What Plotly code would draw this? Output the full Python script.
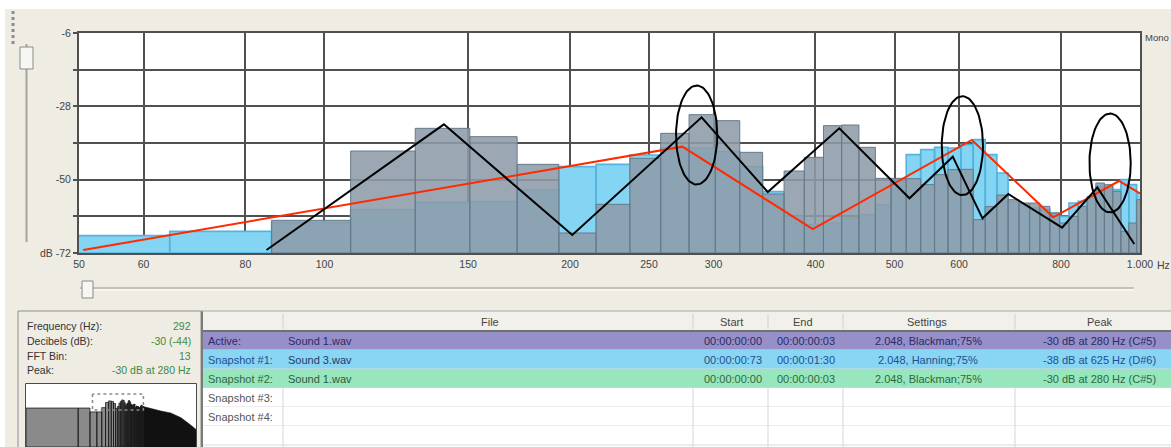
import numpy as np
import plotly.graph_objects as go

# ---------------- data ----------------
SAMPLE_RATE = 44100
FFT_SIZE = 2048
bins = list(range(2, 47))  # FFT bins shown between 50 Hz and 1 kHz

# Snapshot #1 (Sound 3.wav) levels in dB, one per bin
snapshot1_db = [-66.8, -65.5, -62.8, -59.0, -56.8, -56.6, -53.1, -46.1, -45.4, -42.6,
                -40.5, -40.5, -41.6, -46.1, -53.6, -61.0, -63.5, -63.0, -61.5, -60.5,
                -57.5, -50.5, -42.5, -41.0, -40.3, -40.5, -39.5, -38.0, -42.5, -48.0,
                -56.5, -57.5, -58.5, -59.0, -60.0, -61.0, -57.0, -56.5, -55.5, -52.0,
                -52.0, -53.0, -50.0, -51.5, -54.0]
# Active / Snapshot #2 (Sound 1.wav) levels in dB (None = below the floor)
active_db = [None, None, -62.2, -41.4, -34.6, -37.1, -45.4, -66.0, -57.4, -43.6,
             -36.1, -30.5, -32.3, -41.8, -54.3, -47.4, -43.3, -33.8, -33.6, -40.3,
             -49.6, -49.6, -49.7, -51.5, -48.5, -47.0, -46.9, -62.0, -58.1, -54.6,
             -56.0, -57.0, -57.0, -58.0, -60.0, -63.0, -61.0, -58.0, -55.0, -51.0,
             -51.5, -53.5, -65.5, -63.0, -56.0]

# hand-drawn trend lines
red_hz = [50.6, 274.7, 396.9, 622.0, 782.7, 942.6, 1000.0]
red_db = [-71.1, -40.1, -64.8, -38.1, -61.3, -50.4, -54.1]
black_hz = [84.9, 140.1, 201.3, 290.0, 349.6, 427.8, 521.6, 589.4, 641.0, 689.5, 802.6, 886.5, 984.0]
black_db = [-71.1, -33.4, -66.6, -31.3, -53.7, -34.6, -55.6, -43.1, -61.6, -54.3, -64.4, -52.3, -69.3]

# hand-drawn ellipses (centre frequency, centre level)
ellipse_hz = [286.0, 605.6, 919.0]
ellipse_db = [-36.6, -39.8, -45.0]
ellipse_half_decades = 0.0253
ellipse_half_db = 14.85

# axes
view_hz = [50, 1000]
view_db = [-72, -6]
x_tick_hz = [50, 60, 80, 100, 150, 200, 250, 300, 400, 500, 600, 800, 1000]
x_tick_text = ['50', '60', '80', '100', '150', '200', '250', '300', '400', '500', '600', '800', '1.000']
y_grid_db = [-72, -61, -50, -39, -28, -17, -6]
y_tick_text = ['dB -72', '', '-50', '', '-28', '', '-6']

# overview (mini spectrum)
overview_low_db = [-64, -64, -80, -80]          # bins 0..3
overview_hi_hz = [1000, 1500, 2800, 5000, 9200, 16700, 22050]
overview_hi_db = [-58, -66, -76, -84, -104, -136, -152]

# info panel & table
info_labels = ['Frequency (Hz):', 'Decibels (dB):', 'FFT Bin:', 'Peak:']
info_values = ['292', '-30 (-44)', '13', '-30 dB at 280 Hz']
table_header = ['', 'File', 'Start', 'End', 'Settings', 'Peak']
row_labels = ['Active:', 'Snapshot #1:', 'Snapshot #2:', 'Snapshot #3:', 'Snapshot #4:', '']
row_files = ['Sound 1.wav', 'Sound 3.wav', 'Sound 1.wav', '', '', '']
row_starts = ['00:00:00:00', '00:00:00:73', '00:00:00:00', '', '', '']
row_ends = ['00:00:00:03', '00:00:01:30', '00:00:00:03', '', '', '']
row_settings = ['2.048, Blackman;75%', '2.048, Hanning;75%', '2.048, Blackman;75%', '', '', '']
row_peaks = ['-30 dB at 280 Hz (C#5)', '-38 dB at 625 Hz (D#6)', '-30 dB at 280 Hz (C#5)', '', '', '']

# ---------------- styles ----------------
W, H = 1171, 447
BG = '#EEECE3'
GRID = '#505050'
FONT = 'Liberation Sans, Arial, sans-serif'
row_fill = ['#978FC7', '#88D5F4', '#97E6BD', '#FFFFFF', '#FFFFFF', '#FFFFFF']
row_text = ['#2B2A6A', '#1D4F91', '#2C6A3A', '#555555', '#555555', '#555555']

df = SAMPLE_RATE / FFT_SIZE


def X(px):
    return px / W


def Y(py):
    return 1 - py / H


def bar_polys(bin_list, levels, floor):
    xs, ys = [], []
    for k, v in zip(bin_list, levels):
        if v is None:
            continue
        x0 = max(k * df, 1.0)
        x1 = (k + 1) * df
        xs += [x0, x0, x1, x1, x0, None]
        ys += [floor, v, v, floor, floor, None]
    return xs, ys


fig = go.Figure()

# snapshot #1 bars (light blue)
xs, ys = bar_polys(bins, snapshot1_db, view_db[0])
fig.add_trace(go.Scatter(x=xs, y=ys, mode='lines', fill='toself', fillcolor='#84D4F3',
                         line=dict(color='#55B3DE', width=1.6), hoverinfo='skip', showlegend=False))
# active bars (grey-blue, translucent)
xs, ys = bar_polys(bins, active_db, view_db[0])
fig.add_trace(go.Scatter(x=xs, y=ys, mode='lines', fill='toself', fillcolor='rgba(141,156,170,0.88)',
                         line=dict(color='#667A8A', width=1), hoverinfo='skip', showlegend=False))
# trend lines
fig.add_trace(go.Scatter(x=red_hz, y=red_db, mode='lines', line=dict(color='#FF2A00', width=2),
                         hoverinfo='skip', showlegend=False))
fig.add_trace(go.Scatter(x=black_hz, y=black_db, mode='lines', line=dict(color='#000000', width=2),
                         hoverinfo='skip', showlegend=False))
# ellipses
t = np.linspace(0, 2 * np.pi, 90)
for c_hz, c_db in zip(ellipse_hz, ellipse_db):
    ex = 10 ** (np.log10(c_hz) + ellipse_half_decades * np.cos(t))
    ey = c_db + ellipse_half_db * np.sin(t)
    fig.add_trace(go.Scatter(x=ex, y=ey, mode='lines', line=dict(color='#000000', width=2),
                             hoverinfo='skip', showlegend=False))

# ---------------- mini overview ----------------
mini_floor = -224.6
ov_bins = list(range(0, 4)) + bins[2:]
ov_db = overview_low_db + active_db[2:]
xs, ys = bar_polys(ov_bins, ov_db, mini_floor)
fig.add_trace(go.Scatter(x=xs, y=ys, mode='lines', fill='toself', fillcolor='#8A8A8A',
                         line=dict(color='#1A1A1A', width=0.8), xaxis='x2', yaxis='y2',
                         hoverinfo='skip', showlegend=False))
fig.add_trace(go.Scatter(x=overview_hi_hz + overview_hi_hz[::-1],
                         y=overview_hi_db + [mini_floor] * len(overview_hi_hz),
                         mode='lines', fill='toself', fillcolor='#111111', line=dict(color='#111111', width=0.5),
                         xaxis='x2', yaxis='y2', hoverinfo='skip', showlegend=False))
fig.add_trace(go.Scatter(x=[view_hz[0], view_hz[0], view_hz[1], view_hz[1], view_hz[0]],
                         y=[view_db[1], view_db[0], view_db[0], view_db[1], view_db[1]],
                         mode='lines', line=dict(color='#8A8A8A', width=1.5, dash='dot'),
                         xaxis='x2', yaxis='y2', hoverinfo='skip', showlegend=False))

# ---------------- shapes (UI chrome) ----------------
shapes = []


def rect(x0, y0, x1, y1, fill=None, line=None, lw=1, layer='below'):
    shapes.append(dict(type='rect', xref='paper', yref='paper', x0=X(x0), x1=X(x1), y0=Y(y1), y1=Y(y0),
                       fillcolor=fill if fill else 'rgba(0,0,0,0)',
                       line=dict(color=line if line else 'rgba(0,0,0,0)', width=lw if line else 0),
                       layer=layer))


def seg(x0, y0, x1, y1, color, lw=1, dash=None, layer='below'):
    d = dict(type='line', xref='paper', yref='paper', x0=X(x0), x1=X(x1), y0=Y(y0), y1=Y(y1),
             line=dict(color=color, width=lw), layer=layer)
    if dash:
        d['line']['dash'] = dash
    shapes.append(d)


# white strips around the window
rect(0, 0, W, 9, fill='#FFFFFF')
rect(0, 0, 5, H, fill='#FFFFFF')
# grip dots
seg(13, 11, 13, 45, '#8C8C8C', lw=3, dash='dot')
# vertical slider
seg(26.5, 44, 26.5, 242, '#A5A39A', lw=2)
rect(20, 47, 33, 69, fill='#F6F6F2', line='#8A8A86', lw=1)
# horizontal slider
seg(80, 288, 1134, 288, '#B5B3AA', lw=1.5)
seg(80, 290, 1134, 290, '#FFFFFF', lw=1)
rect(82, 281, 93, 298, fill='#F6F6F2', line='#8A8A86', lw=1)

# left info panel box
rect(18, 311, 201, H + 5, line='#8E8E8A', lw=1)
# mini chart frame
seg(25.5, 383.5, 25.5, H, '#4A4A4A', lw=1, layer='above')
seg(25.5, 383.5, 196.5, 383.5, '#4A4A4A', lw=1, layer='above')
seg(196.5, 383.5, 196.5, H, '#4A4A4A', lw=1, layer='above')

# table
col_edges = [203, 283, 693, 768, 843, 1015, 1171]
header_top, header_bot = 311, 331
row_h = 19
rect(201, header_top, W, H, fill='#FFFFFF')
rect(201, header_top, W, header_bot, fill='#F1F0EA')
for i in range(len(row_labels)):
    y0 = header_bot + i * row_h
    rect(203, y0, W, y0 + row_h, fill=row_fill[i])
    seg(203, y0 + row_h, W, y0 + row_h, '#DADADA', lw=1)
for xe in col_edges[1:-1]:
    seg(xe, header_top + 3, xe, header_bot - 2, '#D2D0C8', lw=1)
    seg(xe, header_bot + 3 * row_h, xe, H, '#D5D5D5', lw=1)
seg(201, header_bot, W, header_bot, '#707070', lw=2)
seg(202, header_top, 202, H, '#7A7A7A', lw=2)
seg(201, header_top, W, header_top, '#A8A8A4', lw=1)

# ---------------- annotations ----------------
ann = []


def text(px, py, s, color='#333333', size=11, anchor='left'):
    ann.append(dict(x=X(px), y=Y(py), xref='paper', yref='paper', text=s, showarrow=False,
                    xanchor=anchor, yanchor='middle', font=dict(family=FONT, size=size, color=color)))


text(1143, 38, 'Mono', '#444444', 9.5)
text(1155, 265, 'Hz', '#444444', 10.5)

info_y = [326, 341, 356, 370]
for lab, val, yy in zip(info_labels, info_values, info_y):
    text(25, yy, lab, '#333333', 10.5)
    text(193, yy, val, '#3E8A3E', 10.5, 'right')

header_x = [None, 490, 731, 803, 927, 1100]
for hx, h in zip(header_x, table_header):
    if hx and h:
        text(hx, 322, h, '#444444', 11, 'center')

for i in range(len(row_labels)):
    yy = header_bot + i * row_h + row_h / 2
    c = row_text[i]
    if row_labels[i]:
        text(206, yy, row_labels[i], c, 11)
    if row_files[i]:
        text(286, yy, row_files[i], '#2B2A6A' if i == 0 else '#1F3A6A' if i == 1 else '#2C5A3A', 11)
    if row_starts[i]:
        text(733, yy, row_starts[i], c, 11, 'center')
    if row_ends[i]:
        text(806, yy, row_ends[i], c, 11, 'center')
    if row_settings[i]:
        text(928, yy, row_settings[i], c, 11, 'center')
    if row_peaks[i]:
        text(1099, yy, row_peaks[i], c, 11, 'center')

# ---------------- layout ----------------
fig.update_layout(
    width=W, height=H, autosize=False,
    margin=dict(l=0, r=0, t=0, b=0, pad=0, autoexpand=False),
    paper_bgcolor=BG, plot_bgcolor='#FFFFFF',
    font=dict(family=FONT, size=10.5, color='#444444'),
    shapes=shapes, annotations=ann, showlegend=False,
    xaxis=dict(domain=[X(79), X(1140)], type='log',
               range=[np.log10(view_hz[0]), np.log10(view_hz[1])],
               tickmode='array', tickvals=x_tick_hz, ticktext=x_tick_text,
               showgrid=True, gridcolor=GRID, gridwidth=2, zeroline=False,
               showline=True, linecolor=GRID, linewidth=2, mirror=True, automargin=False,
               ticks='', tickfont=dict(size=10.5, color='#444444'), anchor='y', fixedrange=True),
    yaxis=dict(domain=[Y(253), Y(33)], range=view_db,
               tickmode='array', tickvals=y_grid_db, ticktext=y_tick_text,
               showgrid=True, gridcolor=GRID, gridwidth=2, zeroline=False,
               showline=True, linecolor=GRID, linewidth=2, mirror=True, automargin=False,
               ticks='outside', ticklen=4, tickcolor=GRID, tickwidth=1.5,
               tickfont=dict(size=10.5, color='#444444'), anchor='x', fixedrange=True),
    xaxis2=dict(domain=[X(26), X(196)], type='log', range=[0, np.log10(SAMPLE_RATE / 2)],
                showgrid=False, zeroline=False, showticklabels=False, ticks='', showline=False,
                automargin=False, anchor='y2', fixedrange=True),
    yaxis2=dict(domain=[0, Y(384)], range=[mini_floor, 35.3],
                showgrid=False, zeroline=False, showticklabels=False, ticks='', showline=False,
                automargin=False, anchor='x2', fixedrange=True),
)

fig.write_html('out.html', config={'displayModeBar': False},
               post_script="document.body.style.margin='0';document.body.style.overflow='hidden';")
